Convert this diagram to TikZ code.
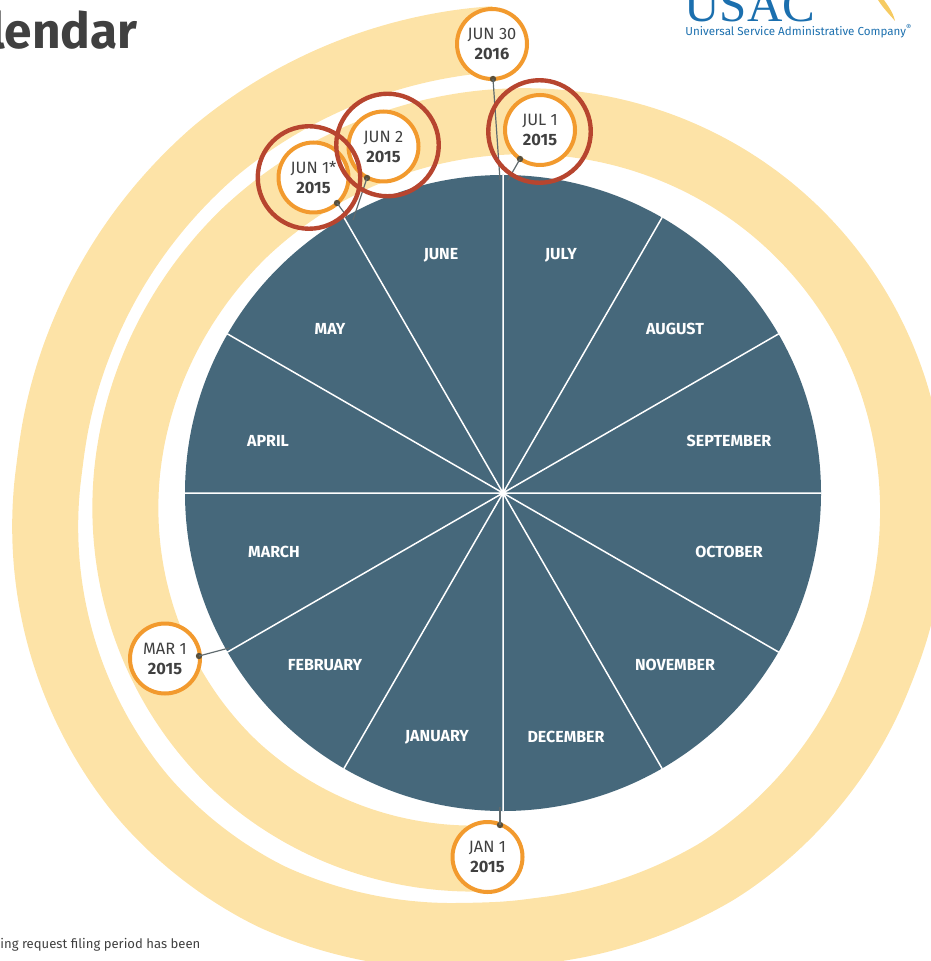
\documentclass[tikz,border=0pt]{standalone}
\usepackage{fontspec}
\setmainfont{Fira Sans}
\newfontfamily\logofont{Liberation Serif}
\definecolor{bandyellow}{HTML}{FDE3A7}
\definecolor{diskblue}{HTML}{46687B}
\definecolor{dateorange}{HTML}{F29A2E}
\definecolor{alertred}{HTML}{B7452F}
\definecolor{logoblue}{HTML}{1B6FAE}
\definecolor{swooshgold}{HTML}{F6CB62}
\definecolor{inkgrey}{HTML}{404040}
\definecolor{pingrey}{HTML}{5F6A6E}
\tikzset{band/.style = {draw=bandyellow, line width=33pt},
	monthlabel/.style = {text=white, font=\fontsize{8}{9.6}\selectfont\bfseries},
	datecircle/.style = {circle, draw=dateorange, line width=2pt, fill=white, inner sep=0pt, minimum size=35pt, align=center, text=inkgrey, font=\fontsize{8.2}{10}\selectfont},
	alertring/.style = {circle, draw=alertred, line width=2.2pt, inner sep=0pt, minimum size=51.25pt},
	connector/.style = {draw=pingrey, line width=0.6pt},
	pindot/.style = {circle, fill=black!65!bandyellow, inner sep=0pt, minimum size=3.2pt}}

\begin{document}
\begin{tikzpicture}[x=0.5pt, y=-0.5pt,
	declare function={bandradius(\a)=352+0.22*(\a-90)+18*cos(\a-105)+6*cos(2*\a-260)+4*cos(2*\a)
		-2*max(0,182.5-\a)/90+4*max(0,\a-560)/70
		+max(0,8*(1-((\a-499)/45)^2))+max(0,4*(1-((\a-415)/30)^2))
		-max(0,4*(1-((\a-450)/30)^2))-max(0,3.5*(1-((\a-545)/45)^2))-max(0,2*(1-((\a-180)/45)^2));}]
	\useasboundingbox (0,0) rectangle (930,961);
\begin{scope}[shift={(503,493)}]
\draw [band] plot [domain=92.5:629, samples=220, smooth] (\x:{bandradius(\x)});
\end{scope}
\node [circle, fill=diskblue, inner sep=0pt, minimum size=318pt] (disk) at (503,493) {};
\draw [white, line width=0.75pt] (disk.0) -- (disk.180) (disk.30) -- (disk.210) (disk.60) -- (disk.240) (disk.90) -- (disk.270) (disk.120) -- (disk.300) (disk.150) -- (disk.330);

\node [monthlabel] (june) at (441,255.5) {JUNE};
\node [monthlabel] (july) at (561,255.5) {JULY};
\node [monthlabel] (august) at (675,329) {AUGUST};
\node [monthlabel] (september) at (729,441) {SEPTEMBER};
\node [monthlabel] (october) at (729,552) {OCTOBER};
\node [monthlabel] (november) at (675,665) {NOVEMBER};
\node [monthlabel] (december) at (566,736.5) {DECEMBER};
\node [monthlabel] (january) at (437,737) {JANUARY};
\node [monthlabel] (february) at (325,665) {FEBRUARY};
\node [monthlabel] (march) at (274,552) {MARCH};
\node [monthlabel] (april) at (268,441) {APRIL};
\node [monthlabel] (may) at (330,329) {MAY};

\node [datecircle] (jan1) at (487.5,857) {JAN 1\\\textbf{2015}};
\node [datecircle] (mar1) at (165,658.5) {MAR 1\\\textbf{2015}};
\node [datecircle] (jun30) at (492,44) {JUN 30\\\textbf{2016}};
\node [datecircle] (jul1) at (540,130) {JUL 1\\\textbf{2015}};
\node [datecircle] (jun2) at (383.5,146.5) {JUN 2\\\textbf{2015}};
\node [datecircle] (jun1) at (313.5,177.5) {JUN 1*\\\textbf{2015}};

\node [pindot] (jan1pin) at (500,825) {};
\node [pindot] (mar1pin) at (199,656) {};
\node [pindot] (jun30pin) at (493,79) {};
\node [pindot] (jul1pin) at (520,159) {};
\node [pindot] (jun2pin) at (367,178) {};
\node [pindot] (jun1pin) at (337,203) {};
\coordinate (jan1end) at (500,807);
\coordinate (mar1end) at (229,648);
\coordinate (jun30end) at (500,180);
\coordinate (jul1end) at (508,180);
\coordinate (jun2end) at (353,220);
\coordinate (jun1end) at (348,218);
\draw [connector] (jan1pin.center) -- (jan1end);
\draw [connector] (mar1pin.center) -- (mar1end);
\draw [connector] (jun30pin.center) -- (jun30end);
\draw [connector] (jul1pin.center) -- (jul1end);
\draw [connector] (jun2pin.center) -- (jun2end);
\draw [connector] (jun1pin.center) -- (jun1end);

\node [alertring] (jul1ring) at (539.5,131.5) {};
\node [alertring] (jun2ring) at (387.5,145) {};
\node [alertring] (jun1ring) at (309,177.5) {};

\node [anchor=base east, text=inkgrey, inner sep=0pt, font=\fontsize{24.8}{30}\selectfont\bfseries] (title) at (138,49) {lendar};
\node [anchor=base west, text=inkgrey, inner sep=0pt, font=\fontsize{6.55}{8}\selectfont] (footnote) at (0,948) {ing request filing period has been};
\node [anchor=base west, text=logoblue, inner sep=0pt, font=\fontsize{24.5}{28}\selectfont\logofont] (logo) at (684,22) {USAC};
\node [anchor=base west, text=logoblue, inner sep=0pt, font=\fontsize{5.8}{7}\selectfont] (logotext) at (685,36) {Universal Service Administrative Company\textsuperscript{\textregistered}};
\fill [swooshgold] (878,0) .. controls (883,8) and (890,15) .. (895,21) .. controls (893,12) and (888,6) .. (884,0) -- cycle;
\end{tikzpicture}
\end{document}
